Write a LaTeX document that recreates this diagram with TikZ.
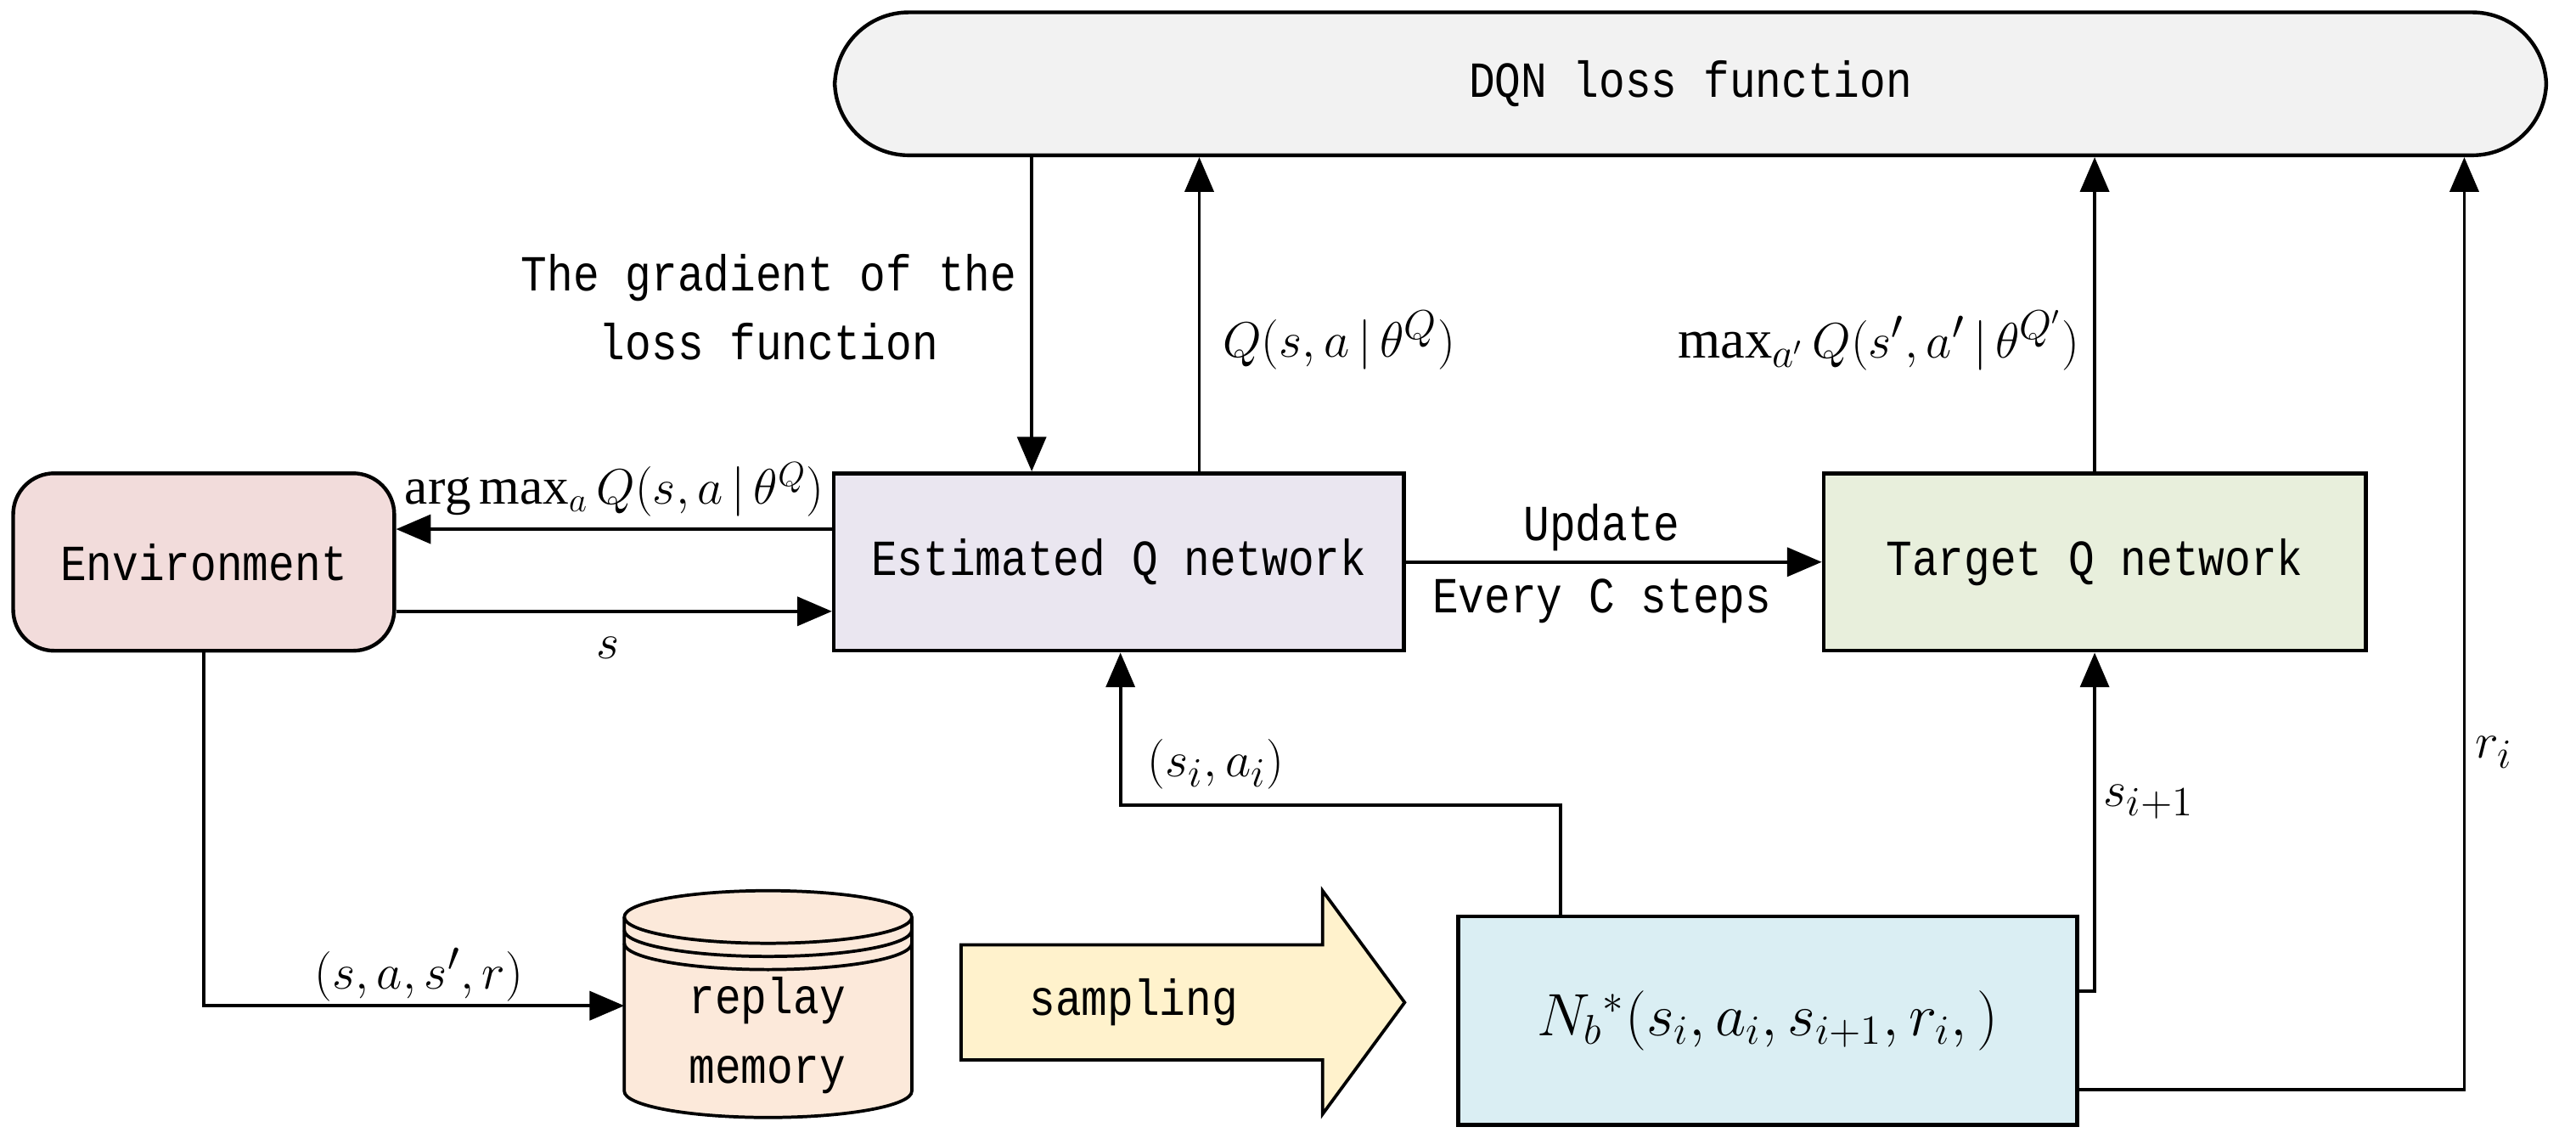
\documentclass[tikz,border=0pt]{standalone}
\usepackage{fontspec}
\setmainfont{Liberation Serif}
\newfontfamily\mono{Liberation Mono}[FakeStretch=0.86]
\usetikzlibrary{arrows.meta}
\begin{document}
\begin{tikzpicture}[x=0.02cm,y=-0.02cm,
  box/.style={draw,line width=1.3pt,minimum height=2.16cm,font=\mono\fontsize{17.5}{20}\selectfont},
  lab/.style={font=\mono\fontsize{17.5}{20}\selectfont},
  mlab/.style={font=\fontsize{19}{22}\selectfont},
  arr/.style={line width=1.1pt,-{Triangle[length=12pt,width=10pt]}},
  ln/.style={line width=1.1pt}]
\useasboundingbox (0,0) rectangle (1568,696);
\node[box,rounded corners=0.9cm,fill=gray!10,minimum width=20.84cm,minimum height=1.74cm] (dqn) at (1029,51) {DQN loss function};
\node[box,rounded corners=0.5cm,minimum width=4.64cm,fill={rgb,255:red,242;green,220;blue,219}] (env) at (124,342) {Environment};
\node[box,minimum width=6.94cm,fill={rgb,255:red,234;green,230;blue,240}] (est) at (681,342) {Estimated Q network};
\node[box,minimum width=6.6cm,fill={rgb,255:red,232;green,239;blue,220}] (tgt) at (1275,342) {Target Q network};
\node[box,minimum width=7.54cm,minimum height=2.54cm,fill={rgb,255:red,218;green,238;blue,243},font=\fontsize{21}{24}\selectfont] (nb) at (1076,621) {$N_b{}^{*}(s_i,a_i,s_{i+1},r_i,)$};
% cylinder
\coordinate (cyl) at (380,612);
\filldraw[line width=1.1pt,fill={rgb,255:red,252;green,233;blue,218}] (380,558) -- (380,664) arc[start angle=180,end angle=360,x radius=87.5,y radius=-16] -- (555,558) arc[start angle=0,end angle=180,x radius=87.5,y radius=-16];
\draw[line width=1.1pt] (380,558) arc[start angle=180,end angle=360,x radius=87.5,y radius=-16];
\draw[line width=1.1pt] (380,566) arc[start angle=180,end angle=360,x radius=87.5,y radius=-16];
\draw[line width=1.1pt] (380,574) arc[start angle=180,end angle=360,x radius=87.5,y radius=-16];
\node[lab,align=center] (mem) at (467,630) {replay\\[4pt]memory};
% sampling arrow
\filldraw[line width=1.1pt,fill={rgb,255:red,255;green,242;blue,204}] (585,575) -- (805,575) -- (805,542) -- (855,610) -- (805,678) -- (805,645) -- (585,645) -- cycle;
\node[lab] (smp) at (690,610) {sampling};
% connectors
\draw[arr] (dqn.south -| 628,0) -- (est.north -| 628,0);
\draw[arr] (est.north -| 730,0) -- (dqn.south -| 730,0);
\draw[arr] (tgt.north) -- (tgt.north |- dqn.south);
\draw[arr] (est.west |- 0,322) -- (env.east |- 0,322);
\draw[arr] (env.east |- 0,372) -- (est.west |- 0,372);
\draw[arr] (est.east) -- (tgt.west);
\draw[arr] (env.south) -- (124,612) -- (cyl);
\draw[arr] (nb.north -| 950,0) -- (950,490) -- (682,490) -- (est.south -| 682,0);
\draw[arr] (nb.east |- 0,603) -- (1275,603) -- (tgt.south);
\draw[arr] (nb.east |- 0,663) -- (1500,663) -- (dqn.south -| 1500,0);
% labels
\node[lab,align=center] (gl) at (468,187) {The gradient of the\\[4pt]loss function};
\node[mlab,anchor=west] (ql) at (738,207) {$Q(s,a\,|\,\theta^{Q})$};
\node[mlab,anchor=east] (tl) at (1272,207) {$\max_{a'}Q(s',a'\,|\,\theta^{Q'})$};
\node[mlab,font=\fontsize{18}{21}\selectfont] (al) at (374,298) {$\arg\max_a Q(s,a\,|\,\theta^{Q})$};
\node[mlab] (sl) at (370,394) {$s$};
\node[lab] (up) at (975,321) {Update};
\node[lab] (ev) at (975,366) {Every C steps};
\node[mlab] (sa) at (740,465) {$(s_i,a_i)$};
\node[mlab] (s1) at (1308,488) {$s_{i+1}$};
\node[mlab] (ri) at (1518,458) {$r_i$};
\node[mlab] (tr) at (255,593) {$(s,a,s',r)$};
\end{tikzpicture}
\end{document}
